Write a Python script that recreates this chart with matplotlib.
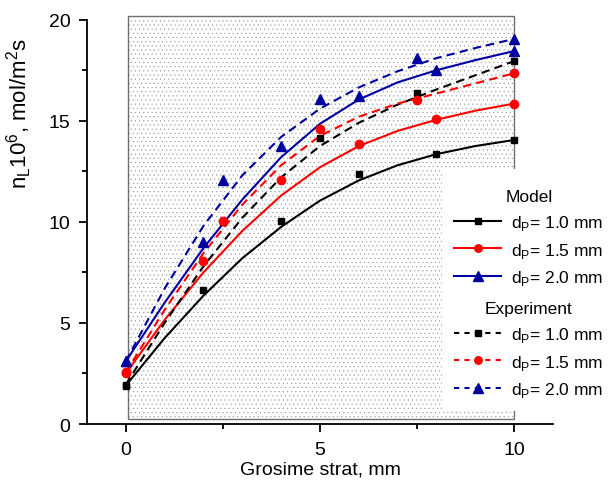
import numpy as np
import matplotlib
matplotlib.use('Agg')
import matplotlib.pyplot as plt
from matplotlib.patches import Rectangle
from matplotlib.lines import Line2D
from matplotlib.ticker import MultipleLocator

plt.rcParams['font.family'] = ['Liberation Sans', 'DejaVu Sans']
plt.rcParams['mathtext.fontset'] = 'custom'
plt.rcParams['mathtext.rm'] = 'Liberation Sans'
plt.rcParams['hatch.linewidth'] = 0.25

# fitted curves (at x = 0..10)
curve_x = [0, 1, 2, 3, 4, 5, 6, 7, 8, 9, 10]
model_10 = [1.9, 4.25, 6.35, 8.2, 9.75, 11.05, 12.05, 12.8, 13.35, 13.75, 14.05]
model_15 = [2.5, 5.15, 7.5, 9.55, 11.3, 12.7, 13.75, 14.5, 15.05, 15.5, 15.85]
model_20 = [3.1, 6.0, 8.7, 11.1, 13.2, 14.85, 16.05, 16.9, 17.5, 18.0, 18.45]
exp_10 = [1.95, 5.0, 7.8, 10.2, 12.2, 13.75, 14.9, 15.8, 16.55, 17.25, 17.95]
exp_15 = [2.55, 5.65, 8.45, 10.85, 12.8, 14.25, 15.2, 15.85, 16.35, 16.85, 17.35]
exp_20 = [3.1, 6.7, 9.8, 12.3, 14.2, 15.6, 16.65, 17.45, 18.1, 18.6, 19.05]

# symbols
model_px = [0, 2, 4, 6, 8, 10]
model_pts_10 = [1.9, 6.65, 10.05, 12.35, 13.35, 14.05]
model_pts_15 = [2.5, 8.05, 12.05, 13.85, 15.1, 15.85]
model_pts_20 = [3.1, 9.0, 13.75, 16.25, 17.5, 18.45]
exp_px = [0, 2.5, 5, 7.5, 10]
exp_pts_10 = [1.95, 10.0, 14.15, 16.35, 17.95]
exp_pts_15 = [2.55, 10.05, 14.6, 16.05, 17.35]
exp_pts_20 = [3.1, 12.05, 16.1, 18.1, 19.05]

labels = ['d$_\\mathregular{P}$= 1.0 mm', 'd$_\\mathregular{P}$= 1.5 mm', 'd$_\\mathregular{P}$= 2.0 mm']
colors = ['black', '#ff0000', '#0000a0']
markers = ['s', 'o', '^']
msizes = [5, 6, 7.5]

fig = plt.figure(figsize=(6.08, 4.85), dpi=100)
ax = fig.add_axes([0.143, 0.1237, 0.7665, 0.8336])

# dotted background panel
ax.add_patch(Rectangle((0.07, 0.25), 9.93, 19.95, facecolor='white', edgecolor='#8a8a8a',
                       hatch='....', lw=0, zorder=0.5, clip_on=False))
ax.add_patch(Rectangle((0.07, 0.25), 9.93, 19.95, facecolor='none', edgecolor='#707070',
                       lw=1.0, zorder=0.6, clip_on=False))

dash = (4, 2.5)
for c, m, ms, yc, yp in zip(colors, markers, msizes,
                            [model_10, model_15, model_20],
                            [model_pts_10, model_pts_15, model_pts_20]):
    ax.plot(curve_x, yc, '-', color=c, lw=1.5, zorder=3)
    ax.plot(model_px, yp, ls='none', marker=m, ms=ms, color=c, zorder=4)
for c, m, ms, yc, yp in zip(colors, markers, msizes,
                            [exp_10, exp_15, exp_20],
                            [exp_pts_10, exp_pts_15, exp_pts_20]):
    ax.plot(curve_x, yc, '--', dashes=dash, color=c, lw=1.5, zorder=3)
    ax.plot(exp_px, yp, ls='none', marker=m, ms=ms, color=c, zorder=4)

ax.set_xlim(-1, 11)
ax.set_ylim(0, 20)
ax.spines['top'].set_visible(False)
ax.spines['right'].set_visible(False)
for s in ['left', 'bottom']:
    ax.spines[s].set_linewidth(1.3)
ax.set_facecolor('none')
ax.xaxis.set_major_locator(MultipleLocator(5))
ax.xaxis.set_minor_locator(MultipleLocator(2.5))
ax.yaxis.set_major_locator(MultipleLocator(5))
ax.yaxis.set_minor_locator(MultipleLocator(2.5))
ax.tick_params(which='major', direction='out', length=6, width=1.3, labelsize=14, pad=6)
ax.tick_params(which='minor', direction='out', length=3.5, width=1.3)

ax.set_xlabel('Grosime strat, mm', fontsize=14, labelpad=2)
ax.set_ylabel('n$_\\mathregular{L}$10$^\\mathregular{6}$, mol/m$^\\mathregular{2}$s', fontsize=16)
ax.yaxis.set_label_coords(-0.113, 0.77)

# white block behind the legend
ax.add_patch(Rectangle((442 / 608, 1 - 412 / 485), 166 / 608, 242 / 485, transform=fig.transFigure,
                       facecolor='white', edgecolor='none', zorder=4.5, clip_on=False))

h_model = [Line2D([], [], color=c, ls='-', lw=1.5, marker=m, ms=ms * 0.9)
           for c, m, ms in zip(colors, markers, msizes)]
h_exp = [Line2D([], [], color=c, ls='--', dashes=(2.5, 2.5), lw=1.5, marker=m, ms=ms * 0.9)
         for c, m, ms in zip(colors, markers, msizes)]

common = dict(fontsize=12.5, title_fontsize=12.5, handlelength=2.7, handletextpad=0.6,
              labelspacing=0.5, borderpad=0.2, frameon=False, loc='upper left',
              bbox_transform=fig.transFigure)
leg1 = ax.legend(h_model, labels, title='Model', bbox_to_anchor=(442 / 608, 1 - 178 / 485), **common)
leg1.set_zorder(5)
ax.add_artist(leg1)
leg2 = ax.legend(h_exp, labels, title='Experiment', bbox_to_anchor=(442 / 608, 1 - 290 / 485), **common)
leg2.set_zorder(5)

fig.savefig('out.png', dpi=100)
